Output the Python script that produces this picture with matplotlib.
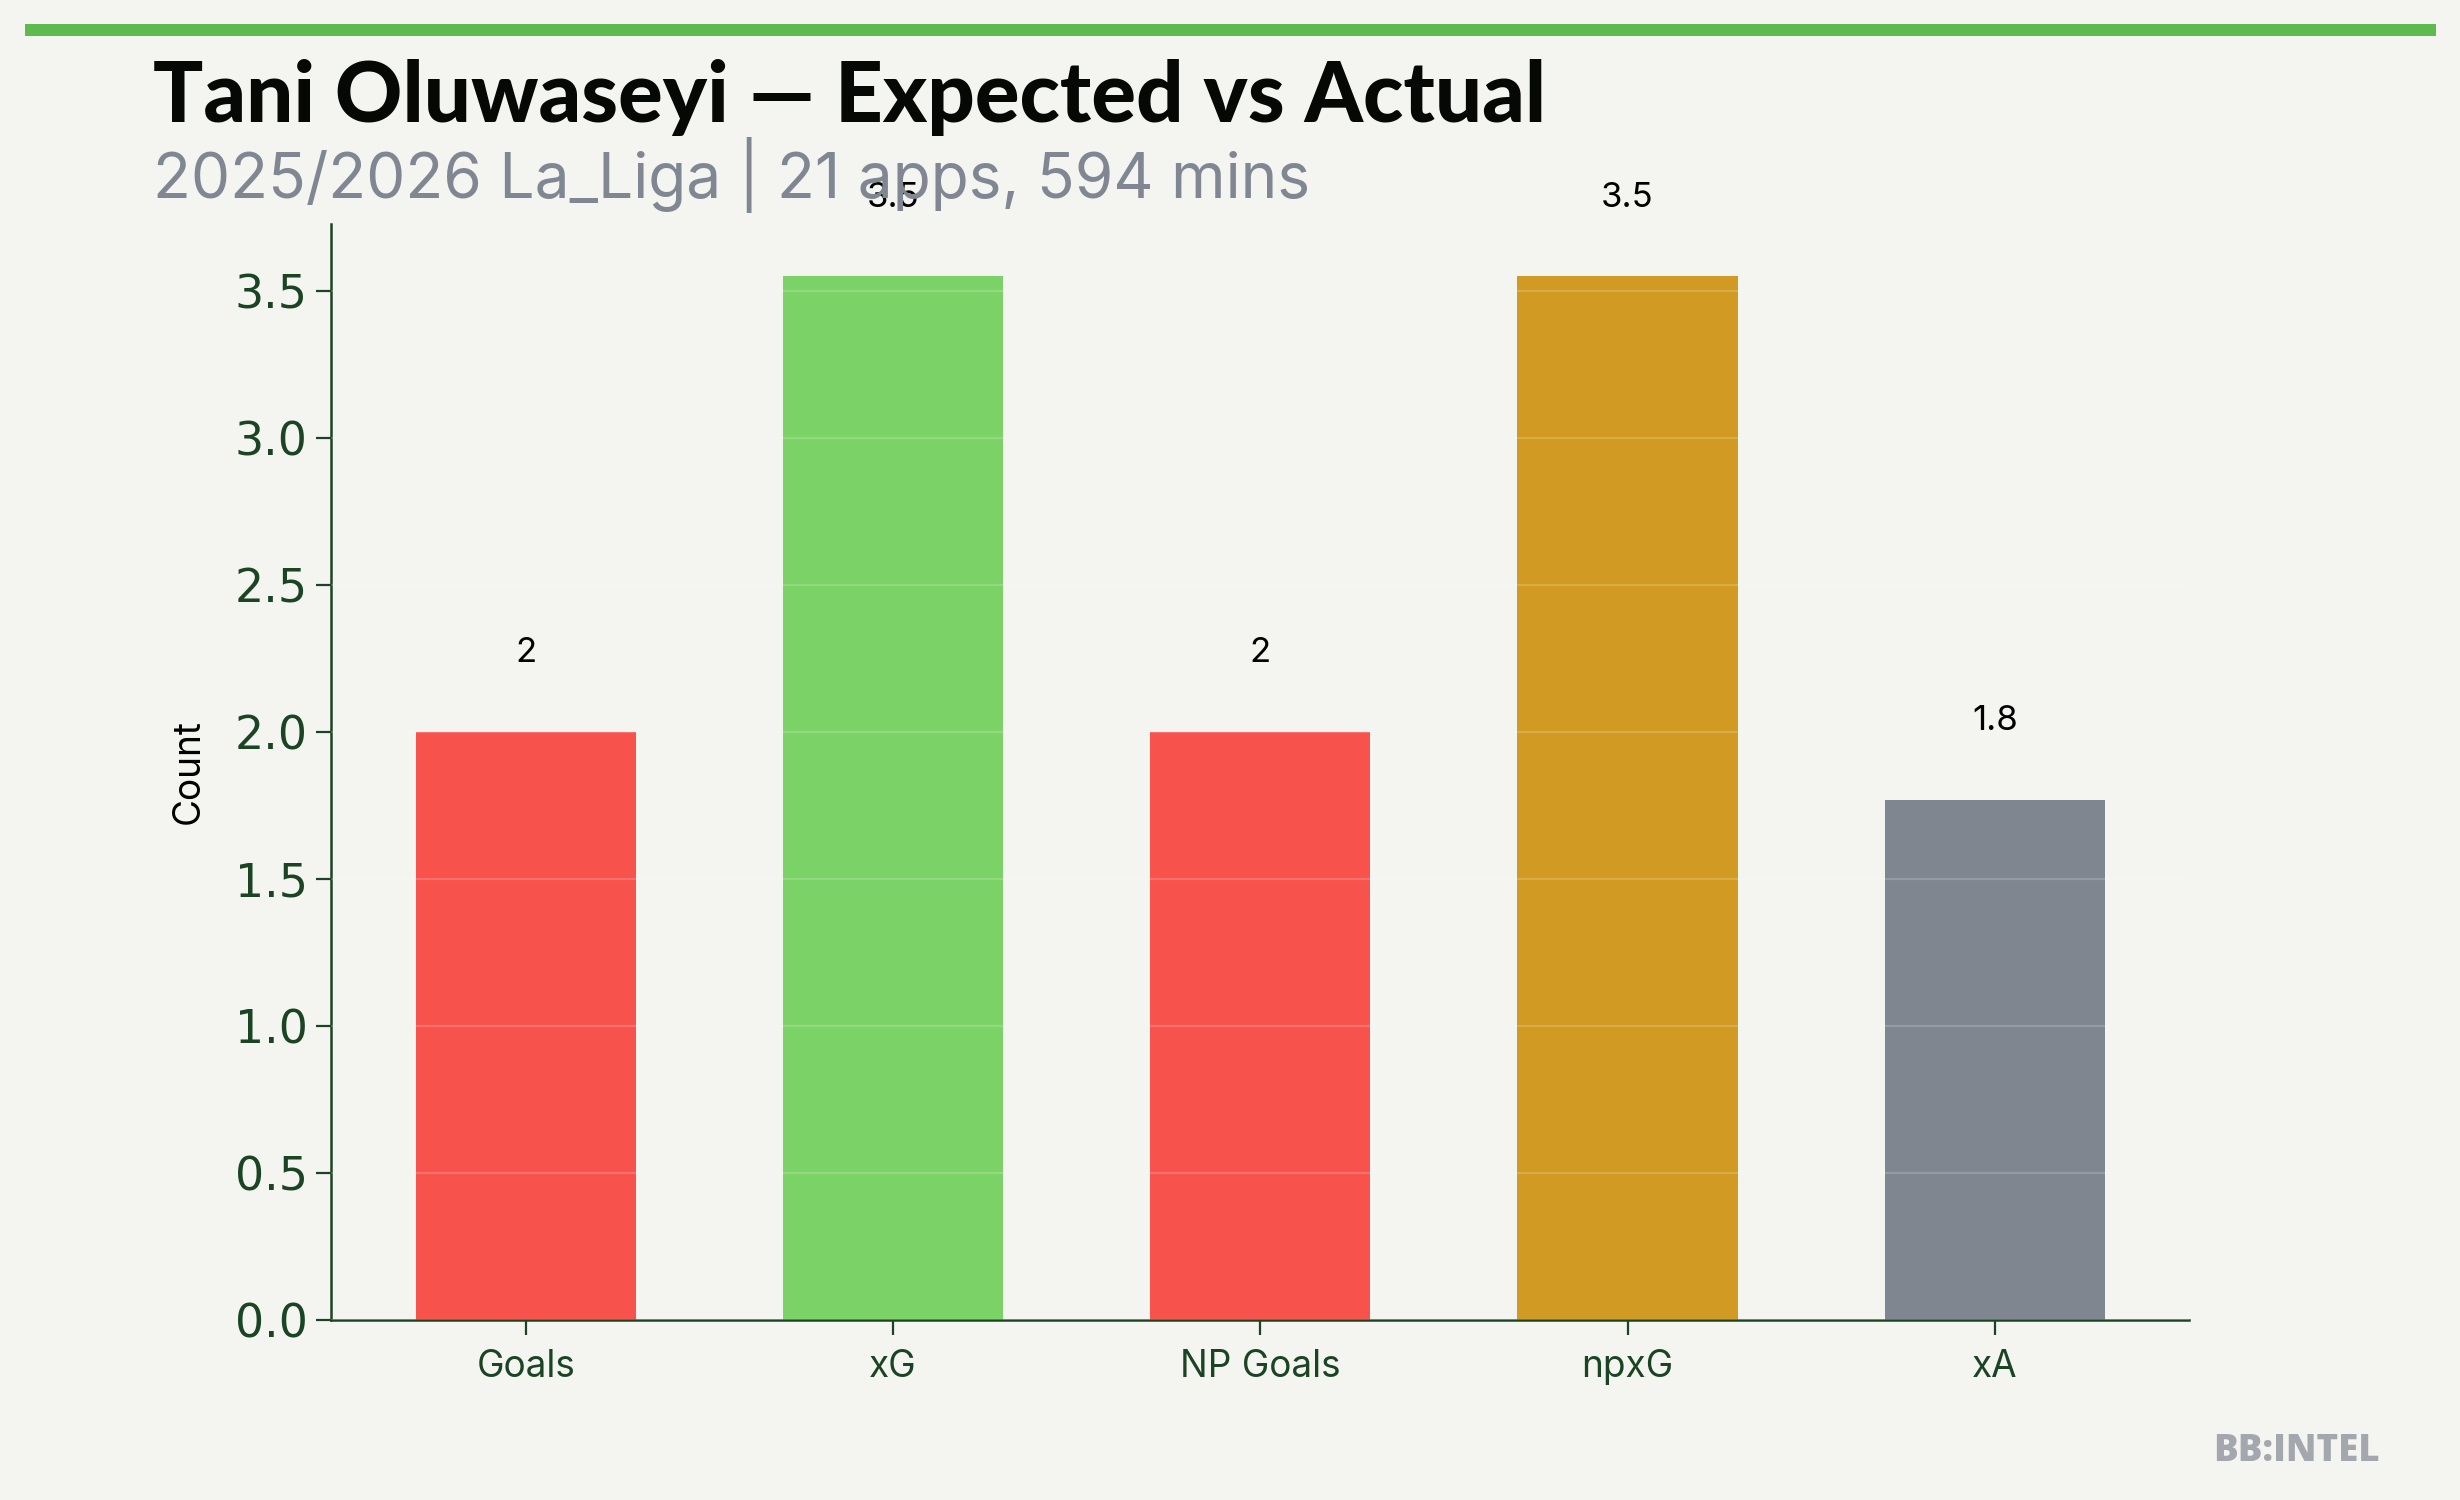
import matplotlib
matplotlib.use("Agg")
import matplotlib.pyplot as plt
from matplotlib.patches import Rectangle

# 資料
categories = ["Goals", "xG", "NP Goals", "npxG", "xA"]
values = [2, 3.55, 2, 3.55, 1.77]
bar_colors = ["#f8524c", "#7bd266", "#f8524c", "#d19a22", "#80868f"]

player = "Tani Oluwaseyi"
season = "2025/2026 La_Liga"
apps = 21
mins = 594

BG = "#f4f5f0"
AXIS = "#1b4424"

plt.rcParams["font.family"] = ["Inter", "DejaVu Sans"]

fig = plt.figure(figsize=(12.3, 7.5), dpi=200, facecolor=BG)
ax = fig.add_axes([0.1346, 0.12, 0.7554, 0.7307])
ax.set_facecolor(BG)

x = range(len(categories))
ax.bar(x, values, width=0.6, color=bar_colors, zorder=2)

ymax = max(values)
ax.set_ylim(0, ymax * 1.05)

# 數值標籤
for xi, v in zip(x, values):
    label = f"{int(v)}" if float(v).is_integer() else f"{v:.1f}"
    ax.text(xi, v + ymax * 0.06, label, ha="center", va="bottom",
            fontsize=12.5, color="black", zorder=4)

ax.set_xticks(list(x))
ax.set_xticklabels(categories)
ax.tick_params(axis="x", colors=AXIS, labelsize=13.3, length=5.4, width=0.8, pad=5)
ax.tick_params(axis="y", colors=AXIS, labelsize=16.5, length=5.4, width=0.8, pad=3)
for lab in ax.get_yticklabels():
    lab.set_family(["DejaVu Sans"])

ax.grid(axis="y", color="white", alpha=0.18, linewidth=0.8, zorder=3)
ax.set_axisbelow(False)

for side in ["top", "right"]:
    ax.spines[side].set_visible(False)
for side in ["left", "bottom"]:
    ax.spines[side].set_color(AXIS)
    ax.spines[side].set_linewidth(0.9)

ax.set_ylabel("Count", fontsize=13.3, color="black", labelpad=10)

# 標題
fig.add_artist(Rectangle((0.0102, 0.976), 0.98, 0.008, transform=fig.transFigure,
                         facecolor="#5cbb4c", edgecolor="none"))
fig.text(0.062, 0.9185, f"{player} — Expected vs Actual", fontsize=30,
         fontweight="black", family=["Lato", "DejaVu Sans"], color="#050805",
         ha="left", va="baseline")
fig.text(0.062, 0.868, f"{season} | {apps} apps, {mins} mins", fontsize=22.4,
         color="#808793", ha="left", va="baseline")
fig.text(0.9675, 0.026, "BB:INTEL", fontsize=13.2, fontweight="heavy",
         family=["Open Sans", "DejaVu Sans"], color="#a4a8ae",
         ha="right", va="baseline")

fig.savefig("out.png", dpi=200, facecolor=BG)
